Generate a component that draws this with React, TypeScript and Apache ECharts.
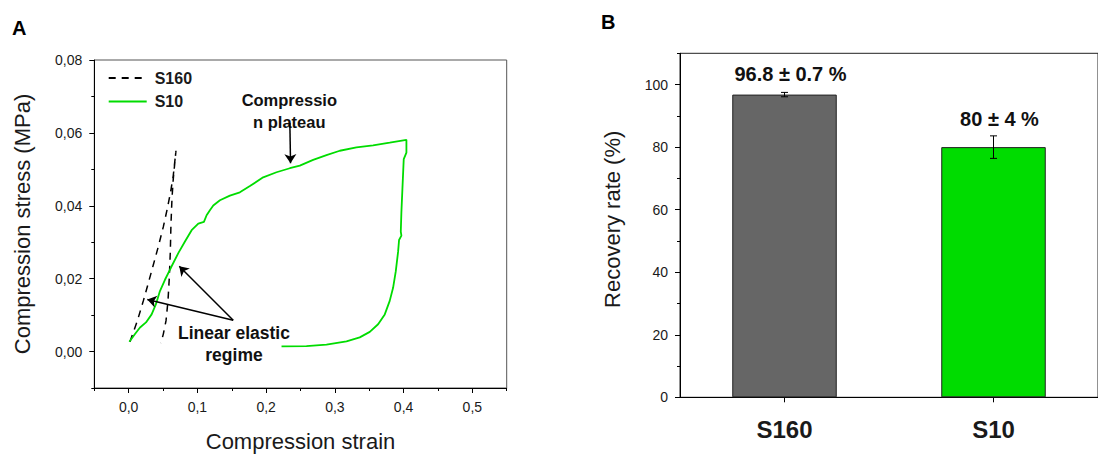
import React, { useEffect, useRef } from "react";
import * as echarts from "echarts";

// ---------- Data ----------
const strainTicks = [0, 0.1, 0.2, 0.3, 0.4, 0.5];
const stressTicks = [0, 0.02, 0.04, 0.06, 0.08];
const rateTicks = [0, 20, 40, 60, 80, 100];

// S160: loading then unloading (strain, stress MPa)
const s160Curve: number[][] = [
  [0.0019, 0.0027], [0.0126, 0.0084], [0.0213, 0.0139], [0.0286, 0.0188],
  [0.0359, 0.0238], [0.0431, 0.0288], [0.0504, 0.0342], [0.0562, 0.0392],
  [0.061, 0.0438], [0.0649, 0.0483], [0.0688, 0.0551],
  [0.0649, 0.0474], [0.063, 0.0419], [0.0615, 0.0347], [0.0606, 0.0274],
  [0.0591, 0.0202], [0.0572, 0.0139], [0.0543, 0.0084], [0.0504, 0.0048],
  [0.047, 0.0023],
];

// S10: loading then unloading
const s10Curve: number[][] = [
  [0.001, 0.0027], [0.0092, 0.0048], [0.0165, 0.0066], [0.0252, 0.008],
  [0.0334, 0.0102], [0.0397, 0.013], [0.0455, 0.0166], [0.0528, 0.0197],
  [0.0625, 0.0234], [0.0722, 0.027], [0.0819, 0.0302], [0.0916, 0.0333],
  [0.1013, 0.0351], [0.1095, 0.0356], [0.1134, 0.0374], [0.1182, 0.0388],
  [0.1231, 0.0401], [0.1328, 0.0415], [0.1473, 0.0428], [0.1618, 0.0437],
  [0.1764, 0.0454], [0.1957, 0.0478], [0.2151, 0.0492], [0.2345, 0.0503],
  [0.249, 0.051], [0.2684, 0.0526], [0.2878, 0.0539], [0.3072, 0.0551],
  [0.3314, 0.056], [0.3556, 0.0566], [0.3798, 0.0573], [0.4041, 0.0581],
  [0.4041, 0.0546], [0.4002, 0.0528], [0.3983, 0.0447], [0.3968, 0.0383],
  [0.3959, 0.0329], [0.3968, 0.0318], [0.3934, 0.0306], [0.392, 0.0274],
  [0.3886, 0.022], [0.3847, 0.0175], [0.3798, 0.0139], [0.3726, 0.0102],
  [0.3629, 0.0075], [0.3508, 0.0054], [0.3362, 0.0039], [0.3169, 0.0028],
  [0.2878, 0.0019], [0.2587, 0.0015], [0.2224, 0.0014],
];

// annotation arrows (strain, stress)
const arrowFrom = [[0.2345, 0.0628], [0.1521, 0.0086], [0.1521, 0.0086]];
const arrowTo = [[0.2355, 0.0517], [0.0271, 0.0143], [0.0736, 0.0234]];

const categories = ["S160", "S10"];
const recovery = [96.8, 80];
const recoveryErr = [0.7, 3.6];
const recoveryLabels = ["96.8 ± 0.7 %", "80 ± 4 %"];

// ---------- Styles ----------
const FONT = '"Liberation Sans", Arial, sans-serif';
const GREEN = "#00dc00";
const GRAY = "#666666";
const TXT = "#1a1a1a";
const labelDistance = [11, 18];

const comma = (v: number, d: number) => v.toFixed(d).replace(".", ",");

export default function App() {
  const ref = useRef<HTMLDivElement>(null);

  useEffect(() => {
    if (!ref.current) return;
    const chart = echarts.init(ref.current, null, { renderer: "svg" });

    const barData = recovery.map((v, i) => ({
      value: v,
      itemStyle: { color: i === 0 ? GRAY : GREEN },
      label: { distance: labelDistance[i] },
    }));
    const errData = recovery.map((v, i) => [i, v - recoveryErr[i], v + recoveryErr[i]]);

    const option: any = {
      animation: false,
      backgroundColor: "#ffffff",
      textStyle: { fontFamily: FONT },
      grid: [
        { left: 94.3, top: 60, width: 412.4, height: 331.7, show: true, borderColor: "#555", borderWidth: 1 },
        { left: 680, top: 53.3, width: 426.7, height: 344, show: true, borderColor: "#222", borderWidth: 1 },
      ],
      legend: {
        data: ["S160", "S10"],
        orient: "vertical",
        left: 107.7,
        top: 70,
        padding: 0,
        itemWidth: 38,
        itemHeight: 14,
        itemGap: 7.4,
        itemStyle: { opacity: 0 },
        textStyle: { fontFamily: FONT, fontSize: 16, fontWeight: "bold", color: TXT, padding: [0, 0, 0, 3] },
      },
      xAxis: [
        {
          gridIndex: 0, type: "value", min: -0.05, max: 0.55, position: "bottom",
          name: "Compression strain", nameLocation: "middle", nameGap: 42,
          nameTextStyle: { fontSize: 22, color: TXT, fontFamily: FONT },
          axisLine: { show: true, onZero: false, lineStyle: { color: "#000", width: 1 } },
          axisTick: { show: true, length: 5, customValues: strainTicks, lineStyle: { color: "#000" } },
          axisLabel: { customValues: strainTicks, formatter: (v: number) => comma(v, 1), fontSize: 14, color: TXT, margin: 12, fontFamily: FONT },
          splitLine: { show: false },
        },
        {
          gridIndex: 0, type: "value", min: -0.05, max: 0.55, interval: 0.05, position: "bottom",
          axisLine: { show: false, onZero: false },
          axisTick: { show: true, length: 3, lineStyle: { color: "#000" } },
          axisLabel: { show: false },
          splitLine: { show: false },
        },
        {
          gridIndex: 1, type: "category", data: categories, position: "bottom",
          axisLine: { show: true, onZero: false, lineStyle: { color: "#000", width: 1 } },
          axisTick: { show: true, alignWithLabel: true, length: 5, lineStyle: { color: "#000" } },
          axisLabel: { fontSize: 24, fontWeight: "bold", color: TXT, margin: 20, fontFamily: FONT },
          splitLine: { show: false },
        },
      ],
      yAxis: [
        {
          gridIndex: 0, type: "value", min: -0.01, max: 0.08, position: "left",
          name: "Compression stress (MPa)", nameLocation: "middle", nameGap: 61,
          nameTextStyle: { fontSize: 22, color: TXT, fontFamily: FONT },
          axisLine: { show: true, onZero: false, lineStyle: { color: "#000", width: 1 } },
          axisTick: { show: true, length: 5, customValues: stressTicks, lineStyle: { color: "#000" } },
          axisLabel: { customValues: stressTicks, formatter: (v: number) => comma(v, 2), fontSize: 14, color: TXT, margin: 12, fontFamily: FONT },
          splitLine: { show: false },
        },
        {
          gridIndex: 0, type: "value", min: -0.01, max: 0.08, interval: 0.01, position: "left",
          axisLine: { show: false, onZero: false },
          axisTick: { show: true, length: 3, lineStyle: { color: "#000" } },
          axisLabel: { show: false },
          splitLine: { show: false },
        },
        {
          gridIndex: 1, type: "value", min: 0, max: 110, position: "left",
          name: "Recovery rate (%)", nameLocation: "middle", nameGap: 57,
          nameTextStyle: { fontSize: 22, color: TXT, fontFamily: FONT, padding: [0, 0, 0, 12] },
          axisLine: { show: true, onZero: false, lineStyle: { color: "#000", width: 1 } },
          axisTick: { show: true, length: 5, customValues: rateTicks, lineStyle: { color: "#000" } },
          axisLabel: { customValues: rateTicks, fontSize: 14, color: TXT, margin: 12, fontFamily: FONT },
          splitLine: { show: false },
        },
        {
          gridIndex: 1, type: "value", min: 0, max: 110, interval: 10, position: "left",
          axisLine: { show: false, onZero: false },
          axisTick: { show: true, length: 3, lineStyle: { color: "#000" } },
          axisLabel: { show: false },
          splitLine: { show: false },
        },
      ],
      series: [
        {
          name: "S160", type: "line", xAxisIndex: 0, yAxisIndex: 0,
          data: s160Curve, symbol: "none", smooth: false,
          lineStyle: { color: "#000", width: 1.5, type: [7, 6] },
          itemStyle: { color: "#000" },
        },
        {
          name: "S10", type: "line", xAxisIndex: 0, yAxisIndex: 0,
          data: s10Curve, symbol: "none", smooth: false,
          lineStyle: { color: GREEN, width: 1.8 },
          itemStyle: { color: GREEN },
          markLine: {
            silent: true,
            symbol: ["none", "arrow"],
            symbolSize: 9,
            label: { show: false },
            lineStyle: { color: "#000", width: 1.5, type: "solid" },
            data: arrowFrom.map((f, i) => [{ coord: f }, { coord: arrowTo[i] }]),
          },
        },
        {
          name: "Recovery", type: "bar", xAxisIndex: 2, yAxisIndex: 2,
          barWidth: "50%",
          data: barData,
          itemStyle: { borderColor: "#222", borderWidth: 1 },
          label: {
            show: true, position: "top", offset: [6, 0],
            formatter: (p: any) => recoveryLabels[p.dataIndex],
            fontSize: 20, fontWeight: "bold", color: "#111", fontFamily: FONT,
          },
        },
        {
          name: "Error", type: "custom", xAxisIndex: 2, yAxisIndex: 2,
          data: errData,
          encode: { x: 0, y: [1, 2] },
          z: 5,
          renderItem: (params: any, api: any) => {
            const lo = api.coord([api.value(0), api.value(1)]);
            const hi = api.coord([api.value(0), api.value(2)]);
            const w = 3.5;
            const st = { stroke: "#000", lineWidth: 1 };
            return {
              type: "group",
              children: [
                { type: "line", shape: { x1: lo[0], y1: lo[1], x2: hi[0], y2: hi[1] }, style: st },
                { type: "line", shape: { x1: lo[0] - w, y1: lo[1], x2: lo[0] + w, y2: lo[1] }, style: st },
                { type: "line", shape: { x1: hi[0] - w, y1: hi[1], x2: hi[0] + w, y2: hi[1] }, style: st },
              ],
            };
          },
        },
      ],
      graphic: [
        { type: "text", x: 19.3, y: 28.3, style: { text: "A", fontSize: 20, fontWeight: "bold", fontFamily: FONT, fill: "#000", align: "center", verticalAlign: "middle" } },
        { type: "text", x: 608.3, y: 21.7, style: { text: "B", fontSize: 20, fontWeight: "bold", fontFamily: FONT, fill: "#000", align: "center", verticalAlign: "middle" } },
        { type: "text", x: 289.3, y: 110.8, style: { text: "Compressio\nn plateau", fontSize: 16.5, lineHeight: 21.7, fontWeight: "bold", fontFamily: FONT, fill: "#111", align: "center", verticalAlign: "middle" } },
        { type: "text", x: 234, y: 344.2, style: { text: "Linear elastic\nregime", fontSize: 17.5, lineHeight: 21.7, fontWeight: "bold", fontFamily: FONT, fill: "#111", align: "center", verticalAlign: "middle" } },
      ],
    };

    chart.setOption(option);
    return () => chart.dispose();
  }, []);

  return (
    <div
      ref={ref}
      style={{ position: "absolute", left: 0, top: 0, width: 1098, height: 457, background: "#fff" }}
    />
  );
}
